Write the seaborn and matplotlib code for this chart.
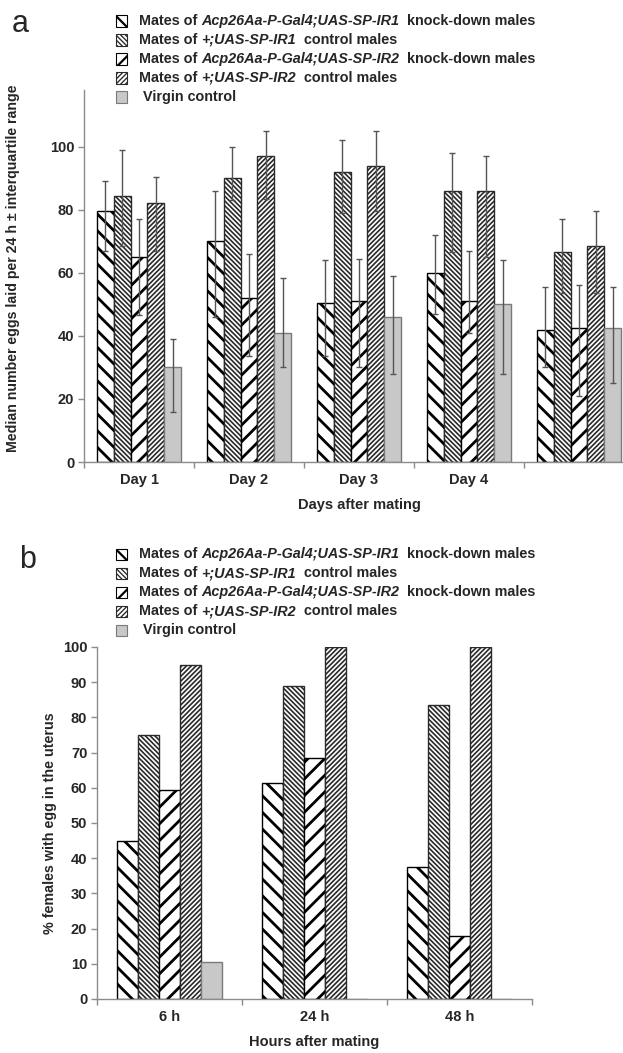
import matplotlib
matplotlib.use('Agg')
import matplotlib.pyplot as plt
import seaborn as sns
import pandas as pd
from matplotlib.patches import Rectangle

# Set seaborn style
sns.set_style("white")
plt.rcParams['font.family'] = ['Liberation Sans', 'DejaVu Sans']
plt.rcParams['font.weight'] = 'bold'

# Groups (hue order)
groups = ['KD1', 'CTRL1', 'KD2', 'CTRL2', 'Virgin']

# Panel a: median eggs per 24 h with interquartile range
days = ['Day 1', 'Day 2', 'Day 3', 'Day 4', 'Day 5']
day_ticks = ['Day 1', 'Day 2', 'Day 3', 'Day 4', '']
kd1_med = [79.5, 70, 50.5, 60, 42]
kd1_lo = [67, 46, 33.5, 47, 30]
kd1_hi = [89, 86, 64, 72, 55.5]
ctrl1_med = [84.5, 90, 92, 86, 66.5]
ctrl1_lo = [68.5, 83, 79, 66.5, 53.5]
ctrl1_hi = [99, 100, 102, 98, 77]
kd2_med = [65, 52, 51, 51, 42.5]
kd2_lo = [46.5, 33.5, 30, 41, 21]
kd2_hi = [77, 66, 64.5, 67, 56]
ctrl2_med = [82, 97, 94, 86, 68.5]
ctrl2_lo = [67, 83.5, 79.5, 65, 53.5]
ctrl2_hi = [90.5, 105, 105, 97, 79.5]
virgin_med = [30, 41, 46, 50, 42.5]
virgin_lo = [16, 30, 28, 28, 25]
virgin_hi = [39, 58.5, 59, 64, 55.5]

# Panel b: % females with egg in the uterus
hours = ['6 h', '24 h', '48 h']
kd1_pct = [45, 61.5, 37.5]
ctrl1_pct = [75, 89, 83.5]
kd2_pct = [59.5, 68.5, 18]
ctrl2_pct = [95, 100, 100]
virgin_pct = [10.5, 0, 0]

# Build long-format tables
meds = [kd1_med, ctrl1_med, kd2_med, ctrl2_med, virgin_med]
los = [kd1_lo, ctrl1_lo, kd2_lo, ctrl2_lo, virgin_lo]
his = [kd1_hi, ctrl1_hi, kd2_hi, ctrl2_hi, virgin_hi]
rows = []
for g, m, lo, hi in zip(groups, meds, los, his):
    for d, mv, lv, hv in zip(days, m, lo, hi):
        rows.append({'day': d, 'group': g, 'median': mv, 'lo': lv, 'hi': hv})
df_a = pd.DataFrame(rows)

pcts = [kd1_pct, ctrl1_pct, kd2_pct, ctrl2_pct, virgin_pct]
rows = []
for g, p in zip(groups, pcts):
    for h, v in zip(hours, p):
        rows.append({'hour': h, 'group': g, 'pct': v})
df_b = pd.DataFrame(rows)

# Bar styles per group
styles = {
    'KD1': dict(fc='white', ec='black', hatch='\\\\', hlw=2.0, lw=1.0),
    'CTRL1': dict(fc='white', ec='#2a2a2a', hatch='\\' * 7, hlw=1.2, lw=1.0),
    'KD2': dict(fc='white', ec='black', hatch='//', hlw=2.0, lw=1.0),
    'CTRL2': dict(fc='white', ec='#2a2a2a', hatch='/' * 7, hlw=1.2, lw=1.0),
    'Virgin': dict(fc='#c8c8c8', ec='#7a7a7a', hatch='', hlw=0.5, lw=1.0),
}


def style_patch(p, st):
    p.set_facecolor(st['fc'])
    p.set_edgecolor(st['ec'])
    p.set_linewidth(st['lw'])
    if st['hatch']:
        p.set_hatch(st['hatch'])
        if hasattr(p, 'set_hatch_linewidth'):
            p.set_hatch_linewidth(st['hlw'])


def style_axes(ax, ncat):
    sns.despine(ax=ax)
    for s in ['left', 'bottom']:
        ax.spines[s].set_color('#8c8c8c')
        ax.spines[s].set_linewidth(1.0)
    ax.tick_params(axis='y', direction='out', length=4, width=1, color='#8c8c8c',
                   labelsize=10.5, pad=3, left=True)
    ax.tick_params(axis='x', which='major', length=0, labelsize=10.5, pad=8)
    ax.set_xticks([i + 0.5 for i in range(-1, ncat)], minor=True)
    ax.tick_params(axis='x', which='minor', direction='out', length=4, width=1,
                   color='#8c8c8c', bottom=True)
    for t in ax.get_xticklabels() + ax.get_yticklabels():
        t.set_fontweight('bold')


W, H = 623, 1053
fig = plt.figure(figsize=(W / 100, H / 100), dpi=100)

# ---------- Panel a ----------
ax_a = fig.add_axes([84 / W, 1 - 462 / H, 550 / W, 372 / H])
sns.barplot(data=df_a, x='day', y='median', hue='group', order=days, hue_order=groups,
            width=0.77, errorbar=None, legend=False, ax=ax_a, saturation=1)
for g, cont in zip(groups, ax_a.containers):
    for p in cont.patches:
        style_patch(p, styles[g])
    sub = df_a[df_a['group'] == g].set_index('day').loc[days]
    xs = [p.get_x() + p.get_width() / 2 for p in cont.patches]
    ax_a.errorbar(xs, sub['median'], yerr=[sub['median'] - sub['lo'], sub['hi'] - sub['median']],
                  fmt='none', ecolor='#555555', elinewidth=1.0, capsize=2.5, capthick=1.0, zorder=5)
ax_a.set_xlim(-0.5, 4.5)
ax_a.set_ylim(0, 118)
ax_a.set_yticks(range(0, 101, 20))
ax_a.set_xticks(range(len(days)))
ax_a.set_xticklabels(day_ticks)
style_axes(ax_a, len(days))
ax_a.set_xlabel('Days after mating', fontsize=10.5, fontweight='bold', labelpad=8)
ax_a.set_ylabel('Median number eggs laid per 24 h \u00b1 interquartile range',
                fontsize=10.2, fontweight='bold', labelpad=16)
ax_a.yaxis.set_label_coords(-0.117, 0.52)

# ---------- Panel b ----------
ax_b = fig.add_axes([97 / W, 1 - 999 / H, 435 / W, 352 / H])
sns.barplot(data=df_b, x='hour', y='pct', hue='group', order=hours, hue_order=groups,
            width=0.72, errorbar=None, legend=False, ax=ax_b, saturation=1)
for g, cont in zip(groups, ax_b.containers):
    for p in cont.patches:
        style_patch(p, styles[g])
ax_b.set_xlim(-0.5, 2.5)
ax_b.set_ylim(0, 100)
ax_b.set_yticks(range(0, 101, 10))
style_axes(ax_b, len(hours))
ax_b.set_xlabel('Hours after mating', fontsize=10.5, fontweight='bold', labelpad=8)
ax_b.set_ylabel('% females with egg in the uterus', fontsize=10.3, fontweight='bold', labelpad=4)

# ---------- Legends (drawn manually for mixed italic text) ----------
legend_rows = [
    [('Mates of ', 'normal'), ('Acp26Aa-P-Gal4;UAS-SP-IR1', 'italic'), ('  knock-down males', 'normal')],
    [('Mates of ', 'normal'), ('+;UAS-SP-IR1', 'italic'), ('  control males', 'normal')],
    [('Mates of ', 'normal'), ('Acp26Aa-P-Gal4;UAS-SP-IR2', 'italic'), ('  knock-down males', 'normal')],
    [('Mates of ', 'normal'), ('+;UAS-SP-IR2', 'italic'), ('  control males', 'normal')],
    [(' Virgin control', 'normal')],
]

renderer = fig.canvas.get_renderer()


def draw_legend(y_first, step=19):
    for i, (g, segs) in enumerate(zip(groups, legend_rows)):
        yc = y_first + i * step
        st = styles[g]
        r = Rectangle((116 / W, 1 - (yc + 5.5) / H), 11 / W, 11 / H, transform=fig.transFigure,
                      facecolor=st['fc'], edgecolor=st['ec'], linewidth=0.8,
                      hatch=st['hatch'] if st['hatch'] else None)
        if st['hatch'] and hasattr(r, 'set_hatch_linewidth'):
            r.set_hatch_linewidth(st['hlw'] * 0.8)
        fig.add_artist(r)
        x = 139
        for txt, style in segs:
            t = fig.text(x / W, 1 - yc / H, txt, fontsize=10.4, fontweight='bold',
                         fontstyle=style, va='center', ha='left')
            x = t.get_window_extent(renderer).x1


draw_legend(21)
draw_legend(554)

fig.text(12 / W, 1 - 32 / H, 'a', fontsize=22, fontweight='normal', va='baseline')
fig.text(19 / W, 1 - 568 / H, 'b', fontsize=22, fontweight='normal', va='baseline')

fig.savefig('out.png', dpi=100)
